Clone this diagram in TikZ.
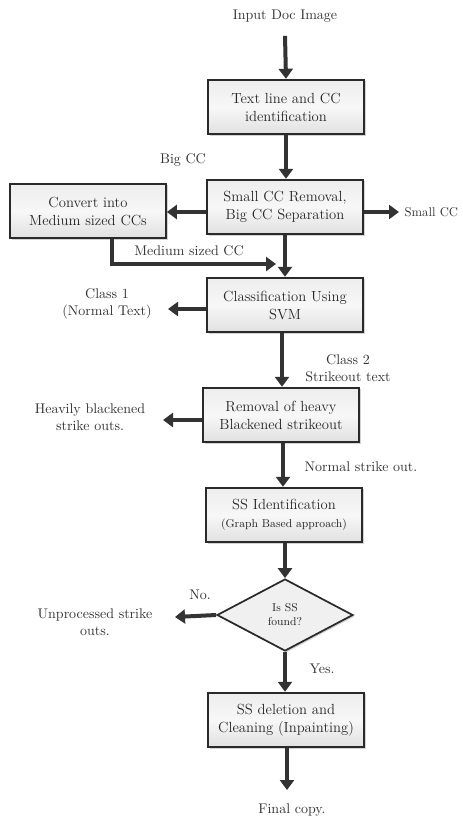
\documentclass[tikz,border=0pt]{standalone}
\usetikzlibrary{arrows.meta,shapes.geometric,shadows}
\definecolor{arr}{HTML}{333333}
\definecolor{txt}{HTML}{333333}
\definecolor{boxline}{HTML}{2A2A2A}
\begin{document}
\begin{tikzpicture}[x=0.75pt,y=-0.75pt,
  proc/.style={draw=boxline,line width=1.3pt,top color=gray!14,bottom color=gray!24,middle color=gray!6,
    minimum width=117pt,minimum height=41pt,align=center,inner sep=2pt,text=black!85,
    drop shadow={shadow xshift=1.2pt,shadow yshift=-1.2pt,opacity=0.35},font=\fontsize{11}{13.5}\selectfont},
  dec/.style={diamond,draw=boxline,line width=1.3pt,fill=gray!12,minimum width=102pt,minimum height=54pt,
    aspect=1.9,inner sep=0pt,align=center,text=black!85,font=\fontsize{8.5}{10.5}\selectfont,
    drop shadow={shadow xshift=1.2pt,shadow yshift=-1.2pt,opacity=0.35}},
  lbl/.style={align=center,text=txt,font=\fontsize{10.5}{13}\selectfont,inner sep=1pt},
  flow/.style={draw=arr,line width=3pt,-{Triangle[width=10.5pt,length=7.5pt]}}]
\useasboundingbox (0,0) rectangle (462,821);
\node[lbl] (in) at (285,16) {Input Doc Image};
\node[proc] (b1) at (286,107) {Text line and CC\\identification};
\node[proc] (b2) at (285,207) {Small CC Removal,\\Big CC Separation};
\node[proc] (b3) at (88,211) {Convert into\\Medium sized CCs};
\node[proc] (b4) at (285,305) {Classification Using\\SVM};
\node[proc] (b5) at (281,415) {Removal of heavy\\Blackened strikeout};
\node[proc] (b6) at (284,515) {SS Identification\\{\fontsize{8.5}{11}\selectfont(Graph Based approach)}};
\node[dec] (d) at (285,615) {Is SS\\found?};
\node[proc] (b7) at (286,720) {SS deletion and\\Cleaning (Inpainting)};
\node[lbl] (fin) at (292,810) {Final copy.};
\node[lbl] (bigcc) at (183,160) {Big CC};
\node[lbl,anchor=west,font=\fontsize{9.5}{12}\selectfont] (small) at (403,212) {Small CC};
\node[lbl] (medcc) at (189,251) {Medium sized CC};
\node[lbl] (c1) at (107,304) {Class 1\\(Normal Text)};
\node[lbl] (c2) at (348,368) {Class 2\\Strikeout text};
\node[lbl] (heavy) at (90,417) {Heavily blackened\\strike outs.};
\node[lbl] (nso) at (361,467) {Normal strike out.};
\node[lbl] (no) at (200,595) {No.};
\node[lbl] (unp) at (95,622) {Unprocessed strike\\outs.};
\node[lbl] (yes) at (322,669) {Yes.};
\coordinate (smallend) at (399,212);
\coordinate (m1) at (112,264);
\coordinate (m2) at (276,264);
\coordinate (c1end) at (168,309);
\coordinate (hend) at (163,420);
\coordinate (uend) at (175,617);
\coordinate (finend) at (287,790);
\draw[flow] (in.south) ++(0,12) -- (b1.north);
\draw[flow] (b1.south) -- (b1.south |- b2.north);
\draw[flow] (b2.west |- smallend) -- (b3.east |- smallend);
\draw[flow] (b2.east |- smallend) -- (smallend);
\draw[flow] (b3.south -| m1) -- (m1) -- (m2);
\draw[flow] (b2.south) -- (b4.north);
\draw[flow] (b4.west |- c1end) -- (c1end);
\draw[flow] (b4.south -| 282,0) -- (b5.north -| 282,0);
\draw[flow] (b5.west |- hend) -- (hend);
\draw[flow] (b5.south -| 283,0) -- (b6.north -| 283,0);
\draw[flow] (b6.south -| 285,0) -- (d.north);
\draw[flow] (d.west) -- (uend);
\draw[flow] (d.south) -- (d.south |- b7.north);
\draw[flow] (b7.south -| finend) -- (finend);
\end{tikzpicture}
\end{document}
